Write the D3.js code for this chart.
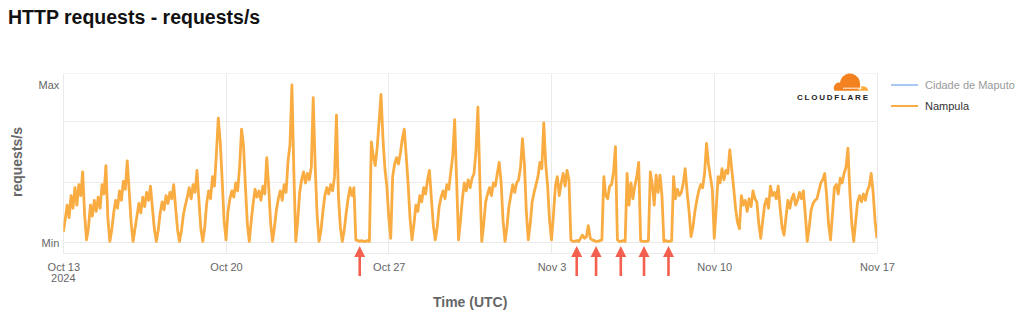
<!DOCTYPE html>
<html><head><meta charset="utf-8">
<script src="https://cdn.jsdelivr.net/npm/d3@7"></script>
<style>
html,body{margin:0;padding:0;background:#fff;}
svg{display:block;font-family:Helvetica, Arial, "Liberation Sans", sans-serif;}
</style></head><body>
<svg id="chart" width="1024" height="324"></svg>
<script>
const title = "HTTP requests - requests/s";
const yAxisTitle = "requests/s";
const xAxisTitle = "Time (UTC)";
const seriesNames = ["Cidade de Maputo", "Nampula"];
const seriesColors = ["#a9c9f2", "#f9ac42"];
const startTime = "2024-10-13T00:00:00Z";
const endTime = "2024-11-17T00:00:00Z";
const stepHours = 2;

// Nampula, normalised (Min = 0, Max = 100), one value every 2 hours (UTC)
const week1 = [
  7, 15, 24, 16, 30, 22, 35, 24, 37, 30, 45, 18,
  2, 10, 24, 17, 27, 20, 29, 22, 37, 31, 49, 16,
  1, 8, 19, 27, 22, 33, 27, 39, 34, 52, 33, 13,
  1, 9, 17, 25, 19, 29, 23, 32, 27, 36, 22, 9,
  1, 8, 19, 26, 21, 30, 25, 32, 28, 37, 22, 8,
  1, 8, 18, 24, 29, 35, 28, 37, 32, 46, 27, 9,
  1, 10, 25, 33, 28, 42, 36, 56, 79, 64, 40, 14
];
const week2 = [
  2, 20, 28, 33, 29, 38, 33, 48, 72, 62, 36, 12,
  1, 14, 25, 34, 29, 33, 27, 36, 31, 54, 36, 13,
  1, 10, 21, 28, 33, 27, 37, 32, 52, 62, 100, 45,
  1, 14, 32, 40, 45, 38, 44, 40, 48, 92, 49, 18,
  1, 8, 20, 30, 35, 31, 37, 33, 42, 81, 30, 10,
  1, 8, 19, 28, 35, 30, 35, 2, 1.5, 1, 1.5, 1,
  1, 1.5, 1, 64, 55, 49, 60, 77, 94, 66, 47, 36
];
const week3 = [
  16, 3, 42, 50, 54, 50, 57, 66, 72, 55, 37, 15,
  2, 12, 24, 20, 30, 26, 35, 31, 40, 46, 28, 11,
  2, 10, 23, 29, 33, 28, 37, 34, 45, 55, 78, 40,
  2, 14, 28, 38, 33, 40, 35, 41, 44, 58, 86, 40,
  1, 12, 26, 31, 35, 30, 38, 36, 44, 51, 38, 14,
  1, 10, 23, 30, 37, 32, 38, 40, 48, 66, 50, 20,
  2, 12, 26, 32, 37, 42, 51, 47, 76, 50, 36, 14
];
const week4 = [
  2, 18, 36, 42, 30, 38, 44, 36, 46, 40, 2, 1,
  1, 1.5, 1, 3, 5, 3, 4, 11, 3, 2, 1.5, 1,
  1, 1.5, 2, 42, 30, 28, 36, 37, 45, 61, 2, 1,
  1, 1.5, 1, 44, 24, 38, 28, 36, 42, 51, 1.5, 1,
  1, 1, 1.5, 45, 37, 24, 43, 32, 43, 30, 1, 1.5,
  1, 1, 1.5, 42, 28, 34, 30, 32, 38, 47, 32, 20,
  4, 10, 20, 27, 33, 37, 35, 44, 63, 50, 42, 34
];
const week5 = [
  3, 22, 42, 38, 47, 40, 46, 44, 59, 47, 35, 22,
  13, 9, 30, 24, 27, 20, 28, 23, 33, 28, 26, 12,
  3, 14, 24, 28, 22, 36, 30, 32, 28, 36, 22, 10,
  5, 16, 27, 22, 28, 31, 24, 27, 32, 28, 33, 18,
  1, 10, 21, 25, 27, 28, 33, 38, 40, 44, 30, 12,
  2, 18, 35, 37, 31, 41, 38, 44, 48, 60, 32, 12,
  1, 14, 26, 30, 26, 31, 27, 33, 36, 44, 32, 14,
  3
];
const cidadeDeMaputo = []; // hidden series (legend only)

const xTickDates = ["2024-10-13", "2024-10-20", "2024-10-27", "2024-11-03", "2024-11-10", "2024-11-17"];
const xTickLabels = ["Oct 13", "Oct 20", "Oct 27", "Nov 3", "Nov 10", "Nov 17"];
const yTickValues = [0, 100];
const yTickLabels = ["Min", "Max"];
const yGridValues = [0, 38.5, 77];
const arrowTimes = ["2024-10-25T18:00:00Z", "2024-11-04T02:00:00Z", "2024-11-04T22:00:00Z",
                    "2024-11-05T23:30:00Z", "2024-11-06T23:30:00Z", "2024-11-08T00:45:00Z"];

// ---------- build ----------
const nampula = [].concat(week1, week2, week3, week4, week5);
const t0 = new Date(startTime).getTime();
const points = nampula.map((v, i) => ({ t: new Date(t0 + i * stepHours * 3600e3), v }));

const svg = d3.select("#chart");
const W = 1024, H = 324;
const plot = { left: 63.3, right: 877, top: 73, bottom: 253 };

svg.append("rect").attr("width", W).attr("height", H).attr("fill", "#fff");

const x = d3.scaleUtc().domain([new Date(startTime), new Date(endTime)]).range([plot.left, plot.right]);
const y = d3.scaleLinear().domain([-6.33, 107.6]).range([plot.bottom, plot.top]);

// grid
const grid = svg.append("g").attr("stroke", "#ebebeb").attr("stroke-width", 1).attr("shape-rendering", "crispEdges");
grid.selectAll(".v").data(xTickDates).join("line")
  .attr("x1", d => x(new Date(d + "T00:00:00Z"))).attr("x2", d => x(new Date(d + "T00:00:00Z")))
  .attr("y1", plot.top).attr("y2", plot.bottom);
grid.selectAll(".h").data(yGridValues).join("line")
  .attr("x1", plot.left).attr("x2", plot.right)
  .attr("y1", d => y(d)).attr("y2", d => y(d));
grid.append("line").attr("x1", plot.left).attr("x2", plot.right).attr("y1", plot.bottom).attr("y2", plot.bottom);
grid.append("line").attr("x1", plot.left).attr("x2", plot.right).attr("y1", plot.top).attr("y2", plot.top).attr("stroke", "#f3f3f3");

// y axis labels
const yAxis = d3.axisLeft(y).tickValues(yTickValues).tickSize(0).tickPadding(4)
  .tickFormat((d, i) => yTickLabels[i]);
const yg = svg.append("g").attr("transform", `translate(${plot.left},0)`).call(yAxis);
yg.select(".domain").remove();
yg.selectAll("text").attr("fill", "#666").style("font-size", "11px").style("font-family", "Helvetica, Arial, 'Liberation Sans', sans-serif");

// x axis labels
const xAxis = d3.axisBottom(x).tickValues(xTickDates.map(d => new Date(d + "T00:00:00Z"))).tickSize(0).tickPadding(10)
  .tickFormat((d, i) => xTickLabels[i]);
const xg = svg.append("g").attr("transform", `translate(0,${plot.bottom})`).call(xAxis);
xg.select(".domain").remove();
xg.selectAll("text").attr("fill", "#666").style("font-size", "11px").style("font-family", "Helvetica, Arial, 'Liberation Sans', sans-serif");
svg.append("text").attr("x", x(new Date(xTickDates[0] + "T00:00:00Z"))).attr("y", 281.5)
  .attr("text-anchor", "middle").attr("fill", "#666").style("font-size", "11px").text("2024");

// series line
svg.append("clipPath").attr("id", "clip").append("rect")
  .attr("x", plot.left).attr("y", plot.top - 5).attr("width", plot.right - plot.left).attr("height", plot.bottom - plot.top + 5);
const line = d3.line().x(d => x(d.t)).y(d => y(d.v));
svg.append("path").datum(points).attr("clip-path", "url(#clip)")
  .attr("fill", "none").attr("stroke", seriesColors[1]).attr("stroke-width", 2.8)
  .attr("stroke-linejoin", "round").attr("d", line);

// titles
svg.append("text").attr("x", 8).attr("y", 24).attr("fill", "#111").style("font-size", "19.5px").style("font-weight", "bold").text(title);
svg.append("text").attr("transform", `translate(21.5,162) rotate(-90)`).attr("text-anchor", "middle")
  .attr("fill", "#666").style("font-size", "14px").style("font-weight", "bold").text(yAxisTitle);
svg.append("text").attr("x", (plot.left + plot.right) / 2).attr("y", 307).attr("text-anchor", "middle")
  .attr("fill", "#666").style("font-size", "14px").style("font-weight", "bold").text(xAxisTitle);

// legend
const legend = svg.append("g");
seriesNames.forEach((name, i) => {
  const ly = 85 + i * 21;
  legend.append("line").attr("x1", 891).attr("x2", 918).attr("y1", ly).attr("y2", ly)
    .attr("stroke", seriesColors[i]).attr("stroke-width", 2);
  legend.append("text").attr("x", 925).attr("y", ly + 4).attr("fill", i === 0 ? "#9a9a9a" : "#333")
    .style("font-size", "11px").text(name);
});

// Cloudflare logo
const logo = svg.append("g");
logo.append("path").attr("fill", "#f48120")
  .attr("d", "M834.5,90.7 A5.5,5.5 0 0 1 840,82.5 A10,10 0 0 1 859.5,80.5 L861,90.7 Z");
logo.append("path").attr("fill", "#faad3f")
  .attr("d", "M857,90.7 A6.2,7 0 0 1 868.5,90.7 Z");
logo.append("path").attr("fill", "none").attr("stroke", "#fff").attr("stroke-width", 0.9)
  .attr("d", "M843,88.2 L861.5,88.2 M859.8,90.7 L861.2,84.5");
logo.append("text").attr("x", 797).attr("y", 99.5).attr("textLength", 71).attr("lengthAdjust", "spacing")
  .attr("fill", "#222").style("font-size", "8px").style("font-weight", "bold").text("CLOUDFLARE");

// annotation arrows
const arrows = svg.append("g").attr("fill", "#f3604f").attr("stroke", "#f3604f");
arrowTimes.forEach(t => {
  const ax = x(new Date(t));
  arrows.append("line").attr("x1", ax).attr("x2", ax).attr("y1", 276).attr("y2", 254).attr("stroke-width", 2.6);
  arrows.append("path").attr("stroke", "none")
    .attr("d", `M${ax},246 L${ax + 5.5},257 L${ax - 5.5},257 Z`);
});
</script>
</body></html>
